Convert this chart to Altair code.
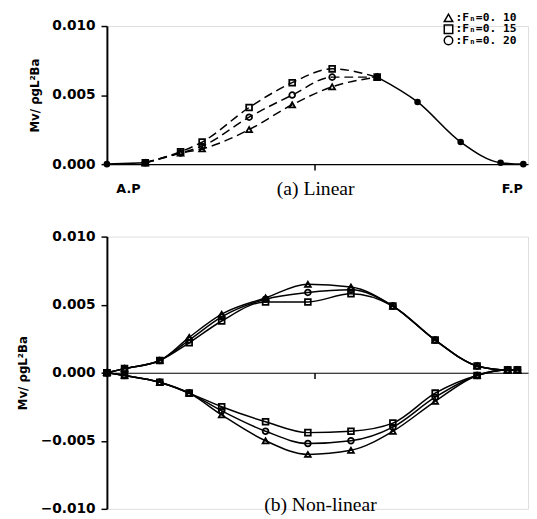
import altair as alt
import pandas as pd

series = ["Fₙ=0. 10", "Fₙ=0. 15", "Fₙ=0. 20"]
shapes = ["triangle-up", "square", "circle"]

# ---- (a) Linear ----
top_left_x = [0.0, 0.98]
top_left_y = [0.0, 0.0001]
top_mid_x = [0.98, 1.88, 2.43, 3.63, 4.73, 5.75, 6.9]
top_mid_010 = [0.0001, 0.0008, 0.0011, 0.0025, 0.0043, 0.0056, 0.0063]
top_mid_015 = [0.0001, 0.0009, 0.0016, 0.0041, 0.0059, 0.0069, 0.0063]
top_mid_020 = [0.0001, 0.0008, 0.0013, 0.0034, 0.0050, 0.0063, 0.0063]
top_right_x = [6.9, 7.93, 9.03, 10.05, 10.63]
top_right_y = [0.0063, 0.0045, 0.0016, 0.0001, 0.0]

# ---- (b) Non-linear ----
bot_x = [0.0, 0.45, 1.35, 2.1, 2.93, 4.05, 5.13, 6.23, 7.3, 8.38, 9.45, 10.23, 10.48]
bot_up_010 = [0, 0.0003, 0.0009, 0.0026, 0.0043, 0.0055, 0.0065, 0.0063, 0.0049, 0.0024, 0.0005, 0.0002, 0.0002]
bot_up_015 = [0, 0.0003, 0.0009, 0.0022, 0.0038, 0.0052, 0.0052, 0.0058, 0.0049, 0.0024, 0.0005, 0.0002, 0.0002]
bot_up_020 = [0, 0.0003, 0.0009, 0.0024, 0.0041, 0.0054, 0.0059, 0.0061, 0.0049, 0.0024, 0.0005, 0.0002, 0.0002]
bot_lo_010 = [0, -0.0002, -0.0007, -0.0015, -0.0031, -0.0050, -0.0060, -0.0057, -0.0043, -0.0021, -0.0002, 0.0002, 0.0002]
bot_lo_015 = [0, -0.0002, -0.0007, -0.0015, -0.0025, -0.0036, -0.0044, -0.0043, -0.0037, -0.0015, -0.0002, 0.0002, 0.0002]
bot_lo_020 = [0, -0.0002, -0.0007, -0.0015, -0.0028, -0.0043, -0.0052, -0.0050, -0.0040, -0.0018, -0.0002, 0.0002, 0.0002]

midship_tick = [5.3]
top_yticks = [0.0, 0.005, 0.010]
bot_yticks = [-0.010, -0.005, 0.0, 0.005, 0.010]

top_labels = ["A.P", "F.P"]
top_labels_x = [0.55, 10.35]
top_labels_y = [-0.0018, -0.0018]
sub_a = ["(a)  Linear"]
sub_a_x = [5.33]
sub_a_y = [-0.0018]
sub_b = ["(b)  Non-linear"]
sub_b_x = [5.45]
sub_b_y = [-0.0097]

# key (legend) in the upper-right corner of panel (a)
key_sym_x = [8.72, 8.72, 8.72]
key_sym_y = [0.01059, 0.00977, 0.00895]
key_txt_x = [8.9]
key_txt_y = [0.01099]

YTITLE = "Mv/ ρgL²Ba"
W = 430
H_TOP = 141
H_BOT = 278

# build tables
top_mid_rows = []
for s, vals in zip(series, [top_mid_010, top_mid_015, top_mid_020]):
    for x, y in zip(top_mid_x, vals):
        top_mid_rows.append({"x": x, "y": y, "series": s})
top_mid = pd.DataFrame(top_mid_rows)
top_common = pd.DataFrame(
    [{"x": x, "y": y, "seg": "L"} for x, y in zip(top_left_x, top_left_y)]
    + [{"x": x, "y": y, "seg": "R"} for x, y in zip(top_right_x, top_right_y)]
)
key_sym = pd.DataFrame({"x": key_sym_x, "y": key_sym_y, "series": series})
key_txt_df = pd.DataFrame({"x": key_txt_x, "y": key_txt_y,
                           "t": ["\n".join(":" + s for s in series)]})

bot_rows = []
for s, up, lo in zip(series, [bot_up_010, bot_up_015, bot_up_020],
                     [bot_lo_010, bot_lo_015, bot_lo_020]):
    for x, y in zip(bot_x, up):
        bot_rows.append({"x": x, "y": y, "series": s, "branch": "up"})
    for x, y in zip(bot_x, lo):
        bot_rows.append({"x": x, "y": y, "series": s, "branch": "lo"})
bot = pd.DataFrame(bot_rows)

shape_scale = alt.Scale(domain=series, range=shapes)
FONT = "DejaVu Sans"


def xenc(offset=None):
    kw = dict(values=midship_tick, labels=False, title=None, tickSize=6,
              domainColor="black", tickColor="black", domainWidth=1.2,
              tickWidth=1.5, grid=False)
    if offset is not None:
        kw["offset"] = offset
    return alt.X("x:Q", scale=alt.Scale(domain=[0, 10.75], nice=False, zero=False),
                 axis=alt.Axis(**kw))


def yaxis(values):
    return alt.Axis(values=values, format=".3f", title=YTITLE, grid=False,
                    labelFont=FONT, labelFontWeight="bold", labelFontSize=14,
                    labelColor="black", titleFont=FONT, titleFontWeight="bold",
                    titleFontSize=12, titleColor="black", titlePadding=11,
                    tickSize=6, labelPadding=6, domainColor="black",
                    domainWidth=2, tickColor="black", tickWidth=1.5)


ytop = alt.Y("y:Q", scale=alt.Scale(domain=[0, 0.010], nice=False), axis=yaxis(top_yticks))

top_dash = alt.Chart(top_mid).mark_line(
    color="black", strokeDash=[9, 5], strokeWidth=1.5, interpolate="monotone"
).encode(x=xenc(), y=ytop, detail="series:N")
top_solid = alt.Chart(top_common).mark_line(
    color="black", strokeWidth=1.6, interpolate="monotone"
).encode(x=xenc(), y=ytop, detail="seg:N")
top_common_pts = alt.Chart(top_common).mark_point(
    shape="circle", filled=True, color="black", size=45, opacity=1
).encode(x=xenc(), y=ytop)
top_pts = alt.Chart(top_mid).mark_point(
    filled=False, color="black", strokeWidth=1.8, size=35, opacity=1
).encode(x=xenc(), y=ytop,
         shape=alt.Shape("series:N", scale=shape_scale, legend=None))
key_pts = alt.Chart(key_sym).mark_point(
    filled=False, color="black", strokeWidth=1.5, size=75, opacity=1
).encode(x=xenc(), y=ytop,
         shape=alt.Shape("series:N", scale=shape_scale, legend=None))
key_txt = alt.Chart(key_txt_df).mark_text(
    font="DejaVu Sans Mono", fontWeight="bold", fontSize=11.5, color="black",
    align="left", baseline="top", lineBreak="\n", lineHeight=11.5
).encode(x=xenc(), y=ytop, text="t:N")
top_txt = alt.Chart(pd.DataFrame({"x": top_labels_x, "y": top_labels_y, "t": top_labels})).mark_text(
    font=FONT, fontWeight="bold", fontSize=13, color="black"
).encode(x=xenc(), y=ytop, text="t:N")
top_sub = alt.Chart(pd.DataFrame({"x": sub_a_x, "y": sub_a_y, "t": sub_a})).mark_text(
    font="Liberation Serif", fontSize=20, color="black"
).encode(x=xenc(), y=ytop, text="t:N")

top = alt.layer(top_dash, top_solid, top_pts, top_common_pts, key_pts, key_txt,
                top_txt, top_sub).properties(width=W, height=H_TOP)

ybot = alt.Y("y:Q", scale=alt.Scale(domain=[-0.010, 0.010], nice=False), axis=yaxis(bot_yticks))

bot_lines = alt.Chart(bot).mark_line(
    color="black", strokeWidth=1.5, interpolate="monotone"
).encode(x=xenc(offset=-H_BOT / 2), y=ybot,
         detail=alt.Detail(["series:N", "branch:N"]))
bot_pts = alt.Chart(bot).mark_point(
    filled=False, color="black", strokeWidth=1.8, size=35, opacity=1
).encode(x=xenc(offset=-H_BOT / 2), y=ybot,
         shape=alt.Shape("series:N", scale=shape_scale, legend=None))
bot_sub = alt.Chart(pd.DataFrame({"x": sub_b_x, "y": sub_b_y, "t": sub_b})).mark_text(
    font="Liberation Serif", fontSize=20, color="black"
).encode(x=xenc(offset=-H_BOT / 2), y=ybot, text="t:N")

bottom = alt.layer(bot_lines, bot_pts, bot_sub).properties(width=W, height=H_BOT)

chart = alt.vconcat(top, bottom, spacing=30).properties(
    padding={"left": 8, "top": -3, "right": 0, "bottom": 0}
).configure_view(stroke=None).configure(background="white")

chart.save("out.html", embed_options={"renderer": "svg", "actions": False})
